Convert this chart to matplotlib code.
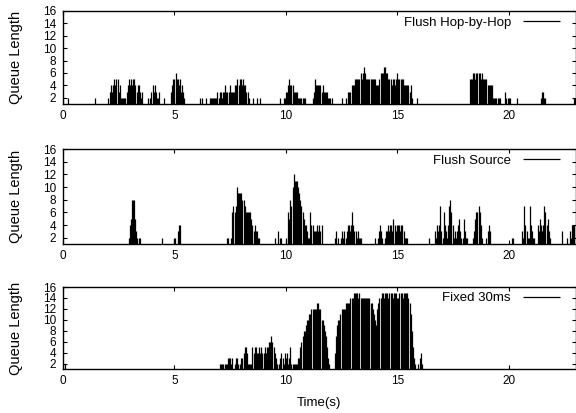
import matplotlib
matplotlib.use("Agg")
import matplotlib.pyplot as plt

# queue samples are 50 ms apart inside every burst
STEP = 0.05

# (start time in s, queue lengths) for each burst of activity
hop_bursts = [
    (0.23, [2]), (1.44, [2]), (2.00, [2]),
    (2.10, [3, 4, 3, 4, 5, 4, 5, 5, 3, 4]),
    (2.60, [2, 2, 2, 2, 2]),
    (2.85, [3, 4, 5, 4, 5, 4, 5, 5, 4, 3, 4, 4, 3, 2, 3]),
    (3.80, [2]),
    (3.92, [2, 3, 4, 3, 4, 3, 2, 2, 3]),
    (4.55, [2]),
    (4.85, [3, 4, 5, 5, 6, 5, 5, 4, 5, 3, 4, 3, 2]),
    (6.14, [2]), (6.25, [2]), (6.40, [2]),
    (6.58, [2, 2, 2, 2, 2, 2, 2, 3, 2, 3, 3, 2, 3, 3, 4, 3, 3, 3, 4, 3,
            3, 3, 3, 4, 4, 5, 4, 5, 5, 4, 5, 4, 4, 3, 3, 2]),
    (8.54, [2]), (8.72, [2]), (8.84, [2]), (9.73, [2]),
    (9.90, [2, 2, 3, 3, 4, 5, 4, 4, 4, 3, 3, 3, 3, 2, 2, 2, 2, 2, 2, 2]),
    (11.20, [2, 3, 5, 4, 4, 4, 4, 4, 3, 4, 3, 3, 3, 3, 2, 2, 2, 2]),
    (12.52, [2]), (12.70, [2]),
    (12.80, [3, 3, 3, 4, 4, 4, 5, 5, 5, 5, 5, 6, 5, 6, 7, 6, 5,
             5, 5, 5, 5, 5, 5, 5, 5, 4, 4, 4, 5, 6, 6, 6, 7, 7, 6, 6, 5,
             5, 5, 4, 5, 5, 4, 5, 6, 5, 5, 5, 5, 5, 4, 4, 4, 4, 4, 3, 4, 2]),
    (15.90, [2]),
    (18.25, [5, 5, 5, 6, 6, 5, 6, 6, 6, 6, 5, 6, 5, 5, 5, 5, 4, 4, 4, 4,
             4, 2, 2, 2, 2, 2, 2, 2]),
    (19.83, [3, 2]), (19.98, [2, 2, 2]), (20.39, [2]),
    (21.45, [2, 3, 3, 2, 2]),
    (22.92, [2, 2]),
]

source_bursts = [
    (2.94, [2, 4, 5, 8, 8, 8, 5, 3, 2, 2, 2]),
    (4.44, [2]), (4.97, [2]), (5.04, [2]),
    (5.14, [3, 4, 4]),
    (7.34, [2, 2]),
    (7.55, [2, 6, 7, 6, 7, 10, 9, 9, 9, 9, 8, 8, 7, 6, 6, 6, 6, 6, 5, 4,
            3, 4, 3, 3, 2, 2]),
    (9.52, [2]), (9.67, [3, 2, 2]), (10.00, [2]),
    (10.10, [6, 5, 8, 7, 10, 12, 11, 11, 11, 10, 9, 8, 7, 6, 5, 4, 4, 3, 2]),
    (11.05, [2, 6, 4, 4, 3, 3, 3, 4, 3, 4, 3, 4]),
    (12.22, [2, 3, 2]),
    (12.48, [2, 3, 2, 3, 2, 3, 4, 4, 3, 4, 6, 4, 3, 3, 2, 3, 2, 2, 2]),
    (13.98, [2, 1, 1, 2, 3, 4, 3, 2, 1, 2, 3, 3, 4, 3, 4, 4, 3, 5, 4, 3,
             4, 4, 4, 3, 4, 4, 3, 2, 2, 2]),
    (16.42, [2]),
    (16.68, [3, 2, 4, 3, 4, 7, 3, 2, 6, 4, 3, 2, 4, 7, 8, 6, 4, 2, 3, 2,
             3, 4, 5, 3, 2, 2, 5, 3, 2, 2]),
    (18.40, [2, 3, 5, 6, 6, 7, 6, 4, 2]),
    (19.00, [2, 3, 4, 3]),
    (20.14, [2, 2]),
    (20.60, [3, 2, 7, 4, 3, 2, 2, 7, 4, 3, 2, 2]),
    (21.30, [4, 3, 5, 4, 3, 4, 7, 6, 4, 5, 3, 2]),
    (22.38, [3]), (22.60, [2]),
    (22.75, [3, 2, 4, 4, 4]),
]

fixed_bursts = [
    (0.08, [2]),
    (7.05, [2, 2, 2, 2, 2, 2, 2, 3, 3, 3, 2, 3, 1, 2, 3, 3, 2, 1, 2, 3,
            3, 4, 5, 5, 4, 2, 2, 2, 2, 5, 4, 5, 5, 4, 4, 5, 4, 5, 4, 4, 5,
            4, 5, 5, 6, 6, 7, 6, 5, 4, 3, 2, 1, 2, 3, 4, 3, 2, 4, 3, 4, 2,
            3, 5, 2, 2, 2, 2, 2, 2, 3]),
    (10.60, [3, 5, 6, 7, 8, 8, 9, 10, 10, 11, 11, 12, 12, 12, 12, 12, 13, 13,
             12, 12, 10, 10, 9, 8, 7, 5, 3, 2]),
    (12.20, [4, 7, 9, 10, 10, 11, 12, 12, 12, 12, 13, 13, 13, 13, 14, 14, 14,
             15, 15, 15, 15, 14, 15, 14, 14, 14, 14, 14, 14, 14, 14, 14,
             13, 13, 12, 11, 10, 9,
             12, 13, 14, 14, 15, 15, 14, 15, 15, 15, 14, 15, 15, 15, 14, 15,
             15, 15, 14, 14, 15, 15, 15, 14, 15, 15, 15, 15, 14,
             13, 11, 8, 5, 3, 2]),
    (15.95, [2, 3, 4, 2]),
]

series_names = ["Flush Hop-by-Hop", "Flush Source", "Fixed 30ms"]
x_ticks = [0, 5, 10, 15, 20]
y_ticks = [2, 4, 6, 8, 10, 12, 14, 16]


def expand(bursts):
    times, values = [], []
    for start, vals in bursts:
        for i, v in enumerate(vals):
            times.append(start + i * STEP)
            values.append(v)
    return times, values


plt.rcParams["font.family"] = ["Liberation Sans", "DejaVu Sans"]

fig = plt.figure(figsize=(5.76, 4.13), dpi=100)

# [left, bottom, width, height] in figure fractions
panels = [
    [0.1094, 0.7482, 0.8898, 0.2252],
    [0.1094, 0.4092, 0.8898, 0.2300],
    [0.1094, 0.1065, 0.8898, 0.1985],
]
legend_y = [0.871, 0.874, 0.866]

for pos, bursts, name, ly in zip(panels, [hop_bursts, source_bursts, fixed_bursts],
                                 series_names, legend_y):
    ax = fig.add_axes(pos)
    t, q = expand(bursts)
    ax.vlines(t, 0, q, colors="black", linewidth=0.9, label=name)

    ax.set_xlim(0, 23)
    ax.set_ylim(1, 16)
    ax.set_xticks(x_ticks)
    ax.set_yticks(y_ticks)
    ax.tick_params(direction="in", length=3, width=0.8, top=True, right=True,
                   labelsize=8.5)
    ax.tick_params(axis="y", pad=5)
    ax.tick_params(axis="x", pad=4)
    for s in ax.spines.values():
        s.set_linewidth(1.0)

    ax.set_ylabel("Queue Length", fontsize=10.5)
    ax.yaxis.set_label_coords(-0.078, 0.5)

    ax.legend(loc="center right", bbox_to_anchor=(0.969, ly), frameon=False,
              markerfirst=False, handlelength=2.8, handletextpad=0.9,
              borderpad=0, borderaxespad=0, fontsize=9.5)

ax.set_xlabel("Time(s)", fontsize=9.5)
ax.xaxis.set_label_coords(0.5, -0.34)

fig.savefig("out.png", dpi=100)
